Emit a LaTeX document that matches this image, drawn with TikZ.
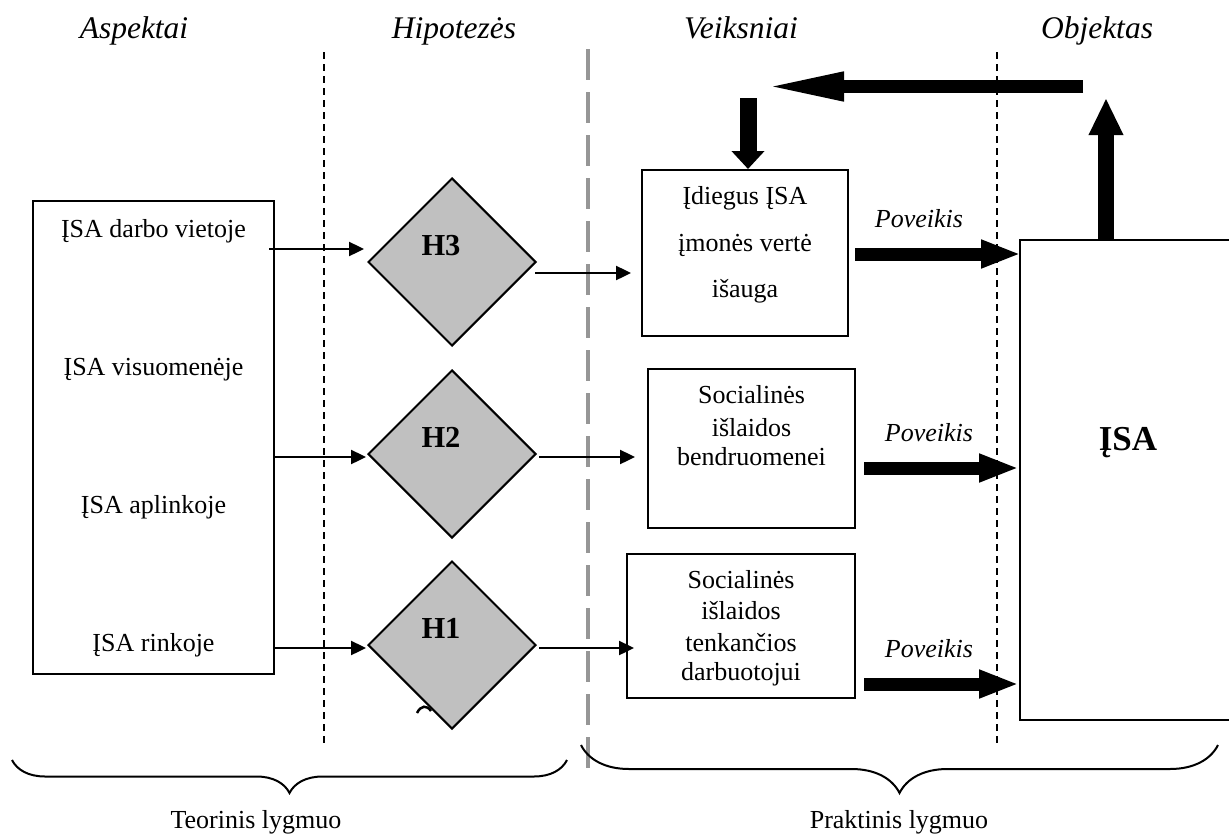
\documentclass[tikz,border=0pt]{standalone}
\usepackage{fontspec}
\setmainfont{Liberation Serif}
\usepackage{tikz}
\usetikzlibrary{arrows.meta,calc,shapes.geometric,decorations.pathreplacing}
\definecolor{hypgray}{RGB}{192,192,192}
\definecolor{splitgray}{RGB}{150,150,150}

\begin{document}
\begin{tikzpicture}[x=1pt,y=-1pt,
    txt/.style={anchor=base, inner sep=0pt, font=\fontsize{26}{31}\selectfont},
    head/.style={anchor=base, inner sep=0pt, font=\fontsize{31.5}{38}\selectfont\itshape},
    pov/.style={anchor=base, inner sep=0pt, font=\fontsize{26}{31}\selectfont\itshape},
    hlab/.style={anchor=base, inner sep=0pt, font=\fontsize{30.5}{36}\selectfont\bfseries},
    box/.style={draw, line width=2pt, inner sep=0pt},
    hyp/.style={diamond, draw, line width=2pt, fill=hypgray, minimum width=168pt, minimum height=168pt, inner sep=0pt},
    link/.style={line width=2.4pt, -{Triangle[length=15pt,width=14pt]}},
    impact/.style={line width=13pt, -{Triangle[length=40pt,width=26pt]}},
    sep/.style={line width=1.5pt, dash pattern=on 7pt off 5pt},
    split/.style={splitgray, line width=3.5pt, dash pattern=on 31pt off 12pt},
    curly/.style={line width=2pt, decorate}]
    \useasboundingbox (0,0) rectangle (1229,835);

    \node[head] (hAsp) at (134,38) {Aspektai};
    \node[head] (hHip) at (454,38) {Hipotezės};
    \node[head] (hVeik) at (741,38) {Veiksniai};
    \node[head] (hObj) at (1097,38) {Objektas};

    \draw[sep] (324,52) -- (324,745);
    \draw[sep] (997,52) -- (997,745);
    \draw[split] (588,49) -- (588,768);

    \node[box, minimum width=241pt, minimum height=473pt] (aspBox) at (153.5,437.5) {};
    \node[txt] (asp1) at (153.5,237) {ĮSA darbo vietoje};
    \node[txt] (asp2) at (153.5,375) {ĮSA visuomenėje};
    \node[txt] (asp3) at (153.5,513) {ĮSA aplinkoje};
    \node[txt] (asp4) at (153.5,651) {ĮSA rinkoje};

    \node[hyp] (dH3) at (452,262) {};
    \node[hyp] (dH2) at (452,454) {};
    \node[hyp] (dH1) at (452,645) {};
    \node[hlab] (lH3) at (441,255) {H3};
    \node[hlab] (lH2) at (441,447) {H2};
    \node[hlab] (lH1) at (441,638) {H1};
    \draw[line width=2.5pt] (417,713) .. controls (421,705) and (427,705) .. (431,711);

    \node[box, minimum width=206pt, minimum height=166pt] (boxA) at (745,253) {};
    \node[txt] (a1) at (745,204) {Įdiegus ĮSA};
    \node[txt] (a2) at (745,251) {įmonės vertė};
    \node[txt] (a3) at (745,297) {išauga};

    \node[box, minimum width=207pt, minimum height=159pt] (boxB) at (751.5,448.5) {};
    \node[txt] (b1) at (751.5,403) {Socialinės};
    \node[txt] (b2) at (751.5,436) {išlaidos};
    \node[txt] (b3) at (751.5,465) {bendruomenei};

    \node[box, minimum width=228pt, minimum height=144pt] (boxC) at (741,626) {};
    \node[txt] (c1) at (741,588) {Socialinės};
    \node[txt] (c2) at (741,619) {išlaidos};
    \node[txt] (c3) at (741,651) {tenkančios};
    \node[txt] (c4) at (741,680) {darbuotojui};

    \node[box, minimum width=220pt, minimum height=480pt] (isaBox) at (1130,480) {};
    \node[anchor=base, inner sep=0pt, font=\fontsize{35}{42}\selectfont\bfseries] (isa) at (1128,450) {ĮSA};

    \draw[link] ($(aspBox.east |- dH3.west)+(-6,-13)$) -- ($(dH3.west)+(-3,-13)$);
    \draw[link] ($(aspBox.east |- dH2.west)+(0,3)$) -- ($(dH2.west)+(-1,3)$);
    \draw[link] ($(aspBox.east |- dH1.west)+(0,3)$) -- ($(dH1.west)+(-1,3)$);

    \draw[link] ($(dH3.east)+(-2,11)$) -- ($(boxA.west |- dH3.east)+(-10,11)$);
    \draw[link] ($(dH2.east)+(2,3)$) -- ($(boxB.west |- dH2.east)+(-12,3)$);
    \draw[link] ($(dH1.east)+(2,3)$) -- ($(boxC.west |- dH1.east)+(8,3)$);

    \node[pov] (p1) at (919,227) {Poveikis};
    \node[pov] (p2) at (929,441) {Poveikis};
    \node[pov] (p3) at (929,657) {Poveikis};
    \draw[impact] ($(boxA.east)+(6,1)$) -- ($(isaBox.west |- boxA.east)+(2,1)$);
    \draw[impact] ($(boxB.east)+(8,19.5)$) -- ($(isaBox.west |- boxB.east)+(0,19.5)$);
    \draw[impact] ($(boxC.east)+(8,58)$) -- ($(isaBox.west |- boxC.east)+(0,58)$);

    \coordinate (upTip) at (1106,98);
    \coordinate (backStart) at (1083,86.5);
    \coordinate (backTip) at (763,86.5);
    \coordinate (downStart) at (748,98);
    \draw[line width=16pt, -{Triangle[length=37pt,width=32pt]}] (isaBox.north west -| upTip) -- (upTip);
    \draw[line width=13pt, -{Triangle[length=81pt,width=26pt]}] (backStart) -- (backTip);
    \draw[line width=17pt, -{Triangle[length=18pt,width=32pt]}] (downStart) -- (boxA.north -| downStart);

    \draw[curly, decoration={brace, mirror, amplitude=33pt}] (12,760) -- (567,760);
    \draw[curly, decoration={brace, mirror, amplitude=48pt}] (581,745) -- (1218,745);
    \node[txt] (teor) at (256,828) {Teorinis lygmuo};
    \node[txt] (prakt) at (899,828) {Praktinis lygmuo};
\end{tikzpicture}
\end{document}
